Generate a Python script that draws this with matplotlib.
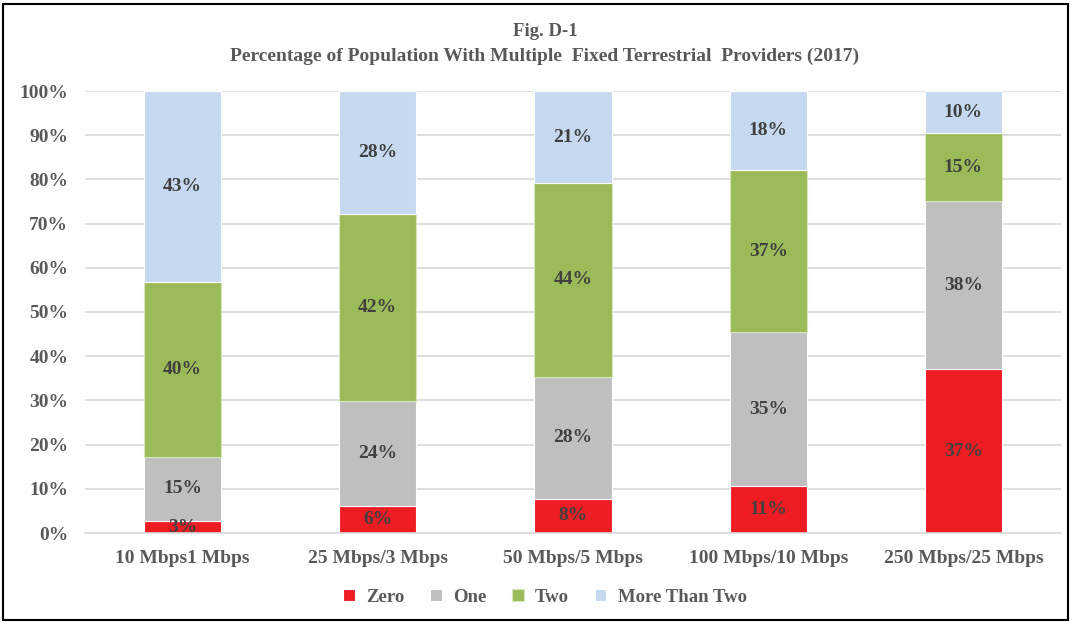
import matplotlib
matplotlib.use("Agg")
import matplotlib.pyplot as plt
from matplotlib.patches import Rectangle
from matplotlib.ticker import PercentFormatter, MultipleLocator

categories = ["10 Mbps1 Mbps", "25 Mbps/3 Mbps", "50 Mbps/5 Mbps", "100 Mbps/10 Mbps", "250 Mbps/25 Mbps"]
zero = [2.7, 6.1, 7.8, 10.6, 37.1]
one = [14.6, 23.8, 27.6, 34.9, 38.0]
two = [39.6, 42.3, 43.7, 36.6, 15.3]
more = [43.1, 27.8, 20.9, 17.9, 9.6]
series_names = ["Zero", "One", "Two", "More Than Two"]
colors = ["#EE1D23", "#BFBFBF", "#9BBB59", "#C6D9F0"]
title_lines = ["Fig. D-1", "Percentage of Population With Multiple  Fixed Terrestrial  Providers (2017)"]

plt.rcParams['font.family'] = ['Liberation Serif', 'DejaVu Serif']
plt.rcParams['font.weight'] = 'bold'

fig = plt.figure(figsize=(10.73, 6.22), dpi=100)
ax = fig.add_axes([85/1073, 1 - 533/622, (1061-85)/1073, (533-91)/622])

x = list(range(len(categories)))
bottom = [0.0]*len(categories)
for name, vals, col in zip(series_names, [zero, one, two, more], colors):
    edge = "#D8E4BC" if name == "Two" else "white"
    ax.bar(x, vals, bottom=bottom, width=0.395, color=col, edgecolor=edge, linewidth=0.8, label=name, zorder=2)
    for xi, b, v in zip(x, bottom, vals):
        ax.text(xi, b + v/2, f"{v:.0f}%", ha="center", va="center", fontsize=14,
                fontweight="bold", color="#404040", zorder=3)
    bottom = [b + v for b, v in zip(bottom, vals)]

ax.set_xlim(-0.5, 4.5)
ax.set_ylim(0, 100)
ax.yaxis.set_major_locator(MultipleLocator(10))
ax.yaxis.set_major_formatter(PercentFormatter(decimals=0))
ax.set_xticks(x)
ax.set_xticklabels(categories)
ax.grid(axis="y", color="#D9D9D9", linewidth=1.2, zorder=0)
ax.set_axisbelow(True)
for s in ["top", "right", "left"]:
    ax.spines[s].set_visible(False)
ax.spines["bottom"].set_color("#D9D9D9")
ax.spines["bottom"].set_linewidth(1.2)
ax.tick_params(axis="both", length=0, labelsize=14, labelcolor="#595959")
ax.tick_params(axis="x", pad=12)
ax.tick_params(axis="y", pad=12)
for lab in ax.get_xticklabels() + ax.get_yticklabels():
    lab.set_fontweight("bold")

fig.text(545/1073, 1 - 32/622, title_lines[0], ha="center", va="center", fontsize=13.5, fontweight="bold", color="#595959")
fig.text(545/1073, 1 - 56/622, title_lines[1], ha="center", va="center", fontsize=14, fontweight="bold", color="#595959")

leg = ax.legend(loc="center", bbox_to_anchor=(545/1073, 1 - 597/622), bbox_transform=fig.transFigure,
                ncol=4, frameon=False, fontsize=13.5, handlelength=0.6, handleheight=0.6,
                handletextpad=0.6, columnspacing=1.4)
for t in leg.get_texts():
    t.set_color("#595959")
    t.set_fontweight("bold")

fig.patches.append(Rectangle((3/1073, 2/622), 1065/1073, 616/622, transform=fig.transFigure,
                             fill=False, edgecolor="black", linewidth=1.5))

fig.savefig("out.png", dpi=100)
